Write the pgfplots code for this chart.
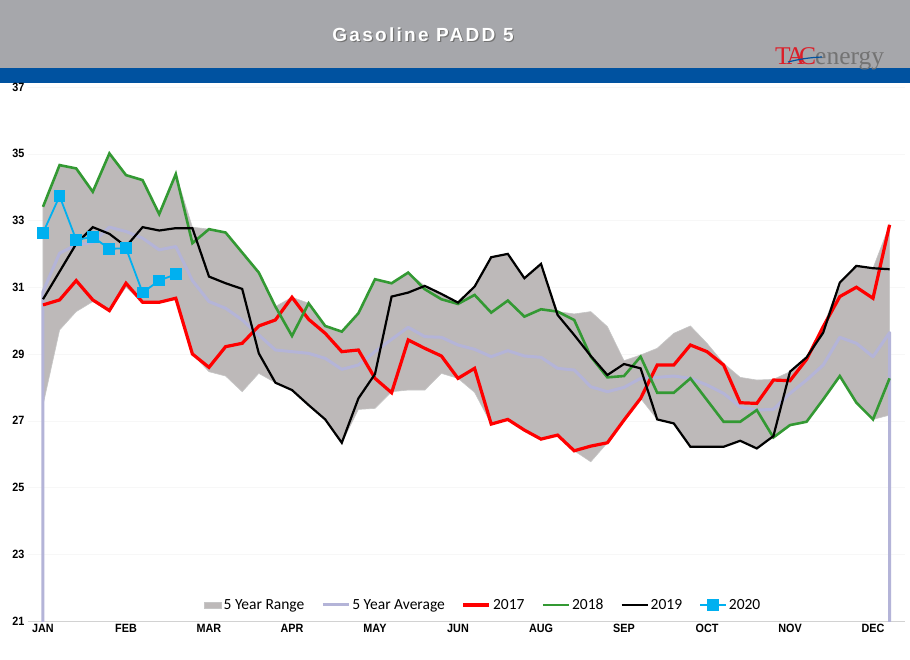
\documentclass[border=0pt]{standalone}
\usepackage{fontspec}
\setmainfont{Liberation Sans}
\newfontfamily\logofont{Liberation Serif}
\newfontfamily\legfont{Carlito}
\usepackage{pgfplots}
\pgfplotsset{compat=1.18}
\definecolor{headgray}{RGB}{166,167,171}
\definecolor{headblue}{RGB}{0,82,160}
\definecolor{bandgray}{RGB}{189,185,185}
\definecolor{avgcol}{RGB}{180,180,216}
\definecolor{g18}{RGB}{51,153,51}
\definecolor{b20}{RGB}{0,176,240}
\definecolor{tacred}{RGB}{220,30,40}
\newcommand{\sq}[1]{\scalebox{0.9}[1]{#1}}
\begin{document}
\begin{tikzpicture}[x=1pt,y=1pt]
\path[use as bounding box] (0,0) rectangle (910,659);
\fill[white] (0,0) rectangle (910,659);
\fill[headgray] (0,591) rectangle (910,659);
\fill[headblue] (0,576) rectangle (910,591);
\node[text=black!55, font=\bfseries\fontsize{19}{20}\selectfont\addfontfeatures{LetterSpace=12}] at (424.2,622.8) {Gasoline PADD 5};
\node[text=white, font=\bfseries\fontsize{19}{20}\selectfont\addfontfeatures{LetterSpace=12}] at (423,624) {Gasoline PADD 5};
\node[anchor=base west, inner sep=0pt] at (775,594) {\logofont\fontsize{25.5}{26}\selectfont\textcolor{tacred}{T\kern-4.5pt A\kern-5.5pt C}\kern-1pt\textcolor{black!55}{energy}};
\draw[headblue, line width=1.2pt] (788,597) .. controls (800,600) and (810,601.5) .. (822,602);
\begin{axis}[
  at={(28pt,38pt)}, anchor=south west,
  scale only axis, width=877pt, height=534pt,
  xmin=-0.9036, xmax=51.928, ymin=21, ymax=37,
  axis x line*=bottom, axis y line*=left,
  x axis line style={draw=gray!35, line width=1pt, -},
  y axis line style={draw=none},
  xtick={0,5,10,15,20,25,30,35,40,45,50},
  xticklabels={\sq{JAN},\sq{FEB},\sq{MAR},\sq{APR},\sq{MAY},\sq{JUN},\sq{AUG},\sq{SEP},\sq{OCT},\sq{NOV},\sq{DEC}},
  ytick={21,23,25,27,29,31,33,35,37},
  yticklabel={\sq{\pgfmathprintnumber{\tick}}},
  major tick length=0pt,
  tick label style={font=\bfseries\fontsize{12}{14}\selectfont},
  /pgf/number format/assume math mode=true,
  ymajorgrids, grid style={gray!6},
  legend columns=6,
  legend style={at={(0.519,0.03)}, anchor=center, draw=none, fill=none,
    font=\legfont\fontsize{15.5}{17}\selectfont,
    /tikz/every even column/.append style={column sep=15pt},
    /tikz/every odd column/.append style={column sep=0pt}},
  legend image code/.code={\draw[mark repeat=2,mark phase=2,#1] plot coordinates {(0pt,0pt) (13pt,0pt) (26pt,0pt)};},
]
% 5 Year Range
\addplot[fill=bandgray, draw=gray!45, line width=0.6pt, area legend] coordinates {
(0,33.41)(1,34.66)(2,34.56)(3,33.86)(4,35.01)(5,34.36)(6,34.21)(7,33.19)(8,34.39)(9,32.80)
(10,32.74)(11,32.64)(12,32.04)(13,31.44)(14,30.42)(15,30.70)(16,30.52)(17,29.84)(18,29.67)(19,30.22)
(20,31.24)(21,31.12)(22,31.44)(23,31.04)(24,30.80)(25,30.54)(26,31.02)(27,31.90)(28,32.00)(29,31.27)
(30,31.70)(31,30.27)(32,30.20)(33,30.27)(34,29.82)(35,28.80)(36,28.97)(37,29.17)(38,29.62)(39,29.84)
(40,29.32)(41,28.72)(42,28.30)(43,28.22)(44,28.24)(45,28.47)(46,28.90)(47,29.82)(48,31.14)(49,31.64)
(50,31.57)(51,32.87)
(51,27.17)(50,27.04)(49,27.54)(48,28.34)(47,27.64)(46,26.97)(45,26.87)(44,26.50)(43,26.17)(42,26.40)
(41,26.22)(40,26.22)(39,26.22)(38,26.92)(37,27.04)(36,27.67)(35,27.02)(34,26.34)(33,25.77)(32,26.10)
(31,26.57)(30,26.45)(29,26.72)(28,27.04)(27,26.90)(26,27.85)(25,28.27)(24,28.42)(23,27.92)(22,27.92)
(21,27.87)(20,27.37)(19,27.34)(18,26.34)(17,27.04)(16,27.47)(15,27.92)(14,28.14)(13,28.42)(12,27.87)
(11,28.34)(10,28.47)(9,29.00)(8,30.67)(7,30.55)(6,30.55)(5,31.00)(4,30.30)(3,30.57)(2,30.27)
(1,29.72)(0,27.47)(0,33.41)
};
\addlegendentry{5 Year Range}
% 5 Year Average
\addplot[avgcol, line width=3pt, line join=round] coordinates {
(0,20)(0,30.87)(1,32.02)(2,32.27)(3,32.34)(4,32.80)(5,32.67)(6,32.47)(7,32.12)(8,32.22)(9,31.20)
(10,30.57)(11,30.37)(12,30.02)(13,29.57)(14,29.12)(15,29.07)(16,29.02)(17,28.87)(18,28.54)(19,28.67)
(20,29.07)(21,29.44)(22,29.80)(23,29.52)(24,29.50)(25,29.27)(26,29.14)(27,28.92)(28,29.10)(29,28.94)
(30,28.90)(31,28.57)(32,28.52)(33,28.02)(34,27.87)(35,28.00)(36,28.27)(37,28.30)(38,28.34)(39,28.27)
(40,28.07)(41,27.82)(42,27.42)(43,27.32)(44,27.34)(45,27.82)(46,28.22)(47,28.67)(48,29.50)(49,29.32)
(50,28.92)(51,29.64)(51,20)
};
\addlegendentry{5 Year Average}
% 2017
\addplot[red, line width=3.2pt] coordinates {
(0,30.47)(1,30.62)(2,31.20)(3,30.62)(4,30.30)(5,31.12)(6,30.55)(7,30.55)(8,30.67)(9,29.00)
(10,28.60)(11,29.22)(12,29.32)(13,29.84)(14,30.02)(15,30.70)(16,30.04)(17,29.62)(18,29.07)(19,29.12)
(20,28.27)(21,27.84)(22,29.42)(23,29.17)(24,28.94)(25,28.27)(26,28.57)(27,26.90)(28,27.04)(29,26.72)
(30,26.45)(31,26.57)(32,26.10)(33,26.24)(34,26.34)(35,27.02)(36,27.67)(37,28.67)(38,28.67)(39,29.27)
(40,29.07)(41,28.67)(42,27.54)(43,27.52)(44,28.22)(45,28.20)(46,28.84)(47,29.82)(48,30.72)(49,31.00)
(50,30.67)(51,32.87)
};
\addlegendentry{2017}
% 2018
\addplot[g18, line width=2.6pt] coordinates {
(0,33.41)(1,34.66)(2,34.56)(3,33.86)(4,35.01)(5,34.36)(6,34.21)(7,33.19)(8,34.39)(9,32.32)
(10,32.74)(11,32.64)(12,32.04)(13,31.44)(14,30.42)(15,29.54)(16,30.52)(17,29.84)(18,29.67)(19,30.22)
(20,31.24)(21,31.12)(22,31.44)(23,30.94)(24,30.64)(25,30.50)(26,30.77)(27,30.24)(28,30.60)(29,30.12)
(30,30.34)(31,30.27)(32,30.02)(33,28.92)(34,28.30)(35,28.34)(36,28.92)(37,27.84)(38,27.84)(39,28.27)
(40,27.62)(41,26.97)(42,26.97)(43,27.32)(44,26.50)(45,26.87)(46,26.97)(47,27.64)(48,28.34)(49,27.54)
(50,27.04)(51,28.27)
};
\addlegendentry{2018}
% 2019
\addplot[black, line width=2.2pt] coordinates {
(0,30.64)(1,31.47)(2,32.30)(3,32.80)(4,32.60)(5,32.22)(6,32.80)(7,32.70)(8,32.77)(9,32.77)
(10,31.32)(11,31.12)(12,30.95)(13,29.02)(14,28.14)(15,27.92)(16,27.47)(17,27.04)(18,26.34)(19,27.67)
(20,28.40)(21,30.72)(22,30.84)(23,31.04)(24,30.80)(25,30.54)(26,31.02)(27,31.90)(28,32.00)(29,31.27)
(30,31.70)(31,30.17)(32,29.57)(33,28.94)(34,28.37)(35,28.70)(36,28.57)(37,27.04)(38,26.92)(39,26.22)
(40,26.22)(41,26.22)(42,26.40)(43,26.17)(44,26.54)(45,28.47)(46,28.90)(47,29.64)(48,31.14)(49,31.64)
(50,31.57)(51,31.54)
};
\addlegendentry{2019}
% 2020
\addplot[b20, line width=1.8pt, mark=square*, mark size=5pt, mark options={solid}] coordinates {
(0,32.63)(1,33.73)(2,32.42)(3,32.51)(4,32.15)(5,32.17)(6,30.84)(7,31.20)(8,31.39)
};
\addlegendentry{2020}
\end{axis}
\end{tikzpicture}
\end{document}
